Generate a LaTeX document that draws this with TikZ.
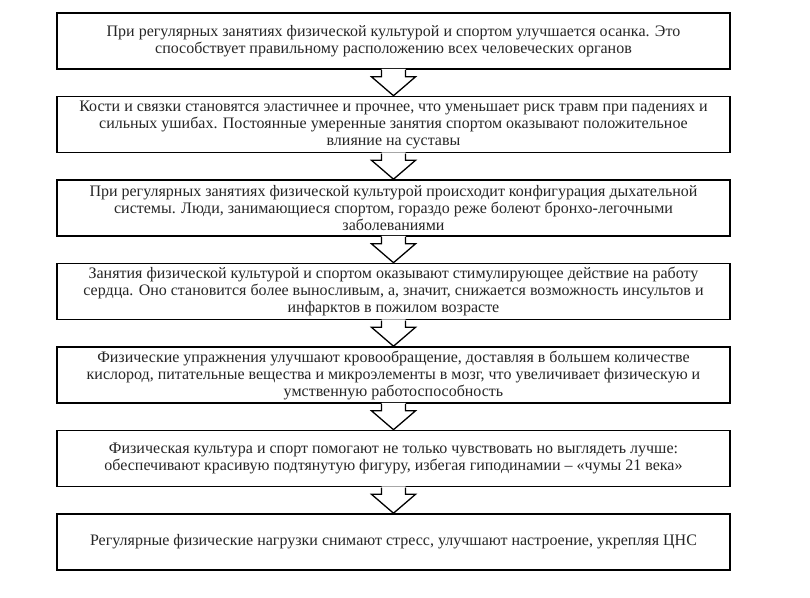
\documentclass[tikz,border=0pt]{standalone}
\usepackage{fontspec}
\setmainfont{Liberation Serif}
\usetikzlibrary{calc}
\begin{document}
\begin{tikzpicture}[x=1pt,y=-1pt,
  box/.style={draw=black, line width=1.6pt, fill=white, minimum width=673pt,
    minimum height=56pt, align=center, inner sep=0pt,
    font=\fontsize{16}{17}\selectfont, text=black!85},
  arrowline/.style={draw=black, line width=1.3pt, line join=miter}]
\useasboundingbox (0,0) rectangle (810,597);
\fill[white] (0,0) rectangle (810,597);
\node[box] (b1) at (393.5,41) {При регулярных занятиях физической культурой и спортом улучшается осанка. Это\\способствует правильному расположению всех человеческих органов};
\node[box] (b2) at (393.5,124.5) {Кости и связки становятся эластичнее и прочнее, что уменьшает риск травм при падениях и\\сильных ушибах. Постоянные умеренные занятия спортом оказывают положительное\\влияние на суставы};
\node[box] (b3) at (393.5,208) {При регулярных занятиях физической культурой происходит конфигурация дыхательной\\системы. Люди, занимающиеся спортом, гораздо реже болеют бронхо-легочными\\заболеваниями};
\node[box] (b4) at (393.5,291.5) {Занятия физической культурой и спортом оказывают стимулирующее действие на работу\\сердца. Оно становится более выносливым, а, значит, снижается возможность инсультов и\\инфарктов в пожилом возрасте};
\node[box] (b5) at (393.5,375) {Физические упражнения улучшают кровообращение, доставляя в большем количестве\\кислород, питательные вещества и микроэлементы в мозг, что увеличивает физическую и\\умственную работоспособность};
\node[box] (b6) at (393.5,458.5) {Физическая культура и спорт помогают не только чувствовать но выглядеть лучше:\\обеспечивают красивую подтянутую фигуру, избегая гиподинамии – «чумы 21 века»};
\node[box] (b7) at (393.5,542) {Регулярные физические нагрузки снимают стресс, улучшают настроение, укрепляя ЦНС};
\foreach \a/\b in {b1/b2,b2/b3,b3/b4,b4/b5,b5/b6,b6/b7}{
  \fill[white] ($(\a.south)+(-12,-1)$) -- ($(\a.south)+(-12,7)$) -- ($(\a.south)+(-22,7)$)
    -- (\b.north) -- ($(\a.south)+(22,7)$) -- ($(\a.south)+(12,7)$) -- ($(\a.south)+(12,-1)$) -- cycle;
  \draw[arrowline] ($(\a.south)+(-12,0.2)$) -- ($(\a.south)+(-12,7)$) -- ($(\a.south)+(-22,7)$)
    -- (\b.north) -- ($(\a.south)+(22,7)$) -- ($(\a.south)+(12,7)$) -- ($(\a.south)+(12,0.2)$);
}
\end{tikzpicture}
\end{document}
